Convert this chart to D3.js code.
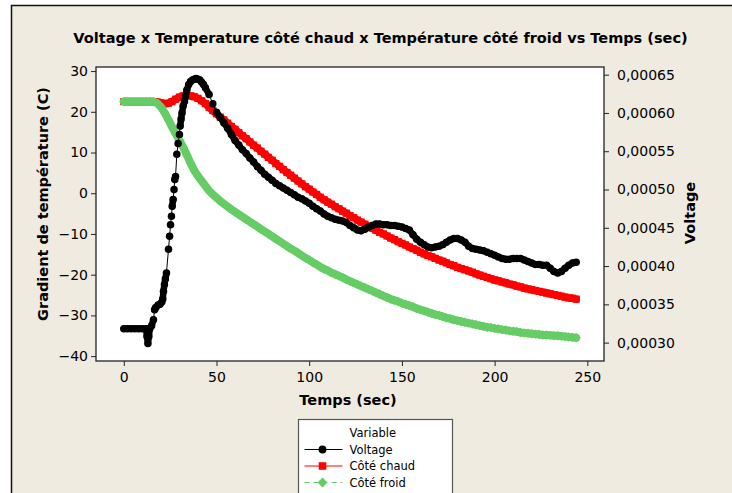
<!DOCTYPE html>
<html>
<head>
<meta charset="utf-8">
<script src="https://cdn.jsdelivr.net/npm/d3@7"></script>
<style>
  html, body { margin: 0; padding: 0; background: #fff; }
  svg { display: block; font-family: "DejaVu Sans", Verdana, sans-serif; }
</style>
</head>
<body>
<svg id="chart" width="732" height="493"></svg>
<script>
const TITLE = "Voltage x Temperature côté chaud x Température côté froid vs Temps (sec)";

// sampling times (sec) of both temperature series
const time = [
    0, 2, 4, 6, 8, 10, 12, 14, 16, 18,
    20, 22, 24, 26, 28, 30, 32, 34, 36, 38,
    40, 42, 44, 46, 48, 50, 52, 54, 56, 58,
    60, 62, 64, 66, 68, 70, 72, 74, 76, 78,
    80, 82, 84, 86, 88, 90, 92, 94, 96, 98,
    100, 102, 104, 106, 108, 110, 112, 114, 116, 118,
    120, 122, 124, 126, 128, 130, 132, 134, 136, 138,
    140, 142, 144, 146, 148, 150, 152, 154, 156, 158,
    160, 162, 164, 166, 168, 170, 172, 174, 176, 178,
    180, 182, 184, 186, 188, 190, 192, 194, 196, 198,
    200, 202, 204, 206, 208, 210, 212, 214, 216, 218,
    220, 222, 224, 226, 228, 230, 232, 234, 236, 238,
    240, 242, 244
];

const coteChaud = [
    22.5, 22.5, 22.5, 22.5, 22.5, 22.5, 22.5, 22.5, 22.5, 22.4,
    22.2, 22.0, 22.1, 22.5, 23.1, 23.6, 23.9, 24.0, 23.9, 23.7,
    23.3, 22.7, 22.0, 21.1, 20.3, 19.5, 18.7, 18.0, 17.2, 16.4,
    15.7, 14.9, 14.1, 13.4, 12.6, 11.8, 11.1, 10.3, 9.6, 8.8,
    8.1, 7.3, 6.6, 5.8, 5.1, 4.4, 3.7, 3.0, 2.3, 1.6,
    1.0, 0.3, -0.3, -1.0, -1.6, -2.2, -2.7, -3.3, -3.8, -4.4,
    -4.9, -5.5, -6.0, -6.6, -7.1, -7.6, -8.1, -8.6, -9.1, -9.6,
    -10.0, -10.5, -11.0, -11.4, -11.9, -12.3, -12.7, -13.2, -13.6, -14.0,
    -14.5, -14.9, -15.3, -15.6, -16.0, -16.4, -16.7, -17.1, -17.5, -17.8,
    -18.2, -18.5, -18.8, -19.1, -19.4, -19.8, -20.1, -20.4, -20.7, -21.0,
    -21.3, -21.5, -21.8, -22.0, -22.3, -22.5, -22.8, -23.0, -23.3, -23.5,
    -23.7, -23.9, -24.1, -24.3, -24.5, -24.7, -24.9, -25.1, -25.3, -25.5,
    -25.7, -25.8, -26.0
];

const coteFroid = [
    22.5, 22.5, 22.5, 22.5, 22.5, 22.5, 22.5, 22.5, 22.5, 22.1,
    21.2, 19.8, 18.1, 16.3, 14.6, 13.0, 11.3, 9.4, 7.4, 5.6,
    4.2, 3.0, 1.8, 0.6, -0.3, -1.1, -1.9, -2.6, -3.3, -4.0,
    -4.6, -5.2, -5.8, -6.4, -7.0, -7.6, -8.2, -8.8, -9.4, -10.0,
    -10.6, -11.2, -11.8, -12.4, -13.0, -13.6, -14.1, -14.7, -15.3, -15.9,
    -16.4, -17.0, -17.5, -18.1, -18.6, -19.0, -19.5, -19.9, -20.3, -20.7,
    -21.2, -21.6, -22.0, -22.4, -22.8, -23.2, -23.6, -24.0, -24.4, -24.8,
    -25.2, -25.6, -26.0, -26.3, -26.6, -27.0, -27.3, -27.6, -27.9, -28.3,
    -28.6, -28.9, -29.2, -29.5, -29.8, -30.0, -30.3, -30.6, -30.8, -31.1,
    -31.3, -31.5, -31.7, -31.9, -32.1, -32.3, -32.5, -32.7, -32.9, -33.0,
    -33.2, -33.3, -33.5, -33.6, -33.8, -33.9, -34.0, -34.2, -34.3, -34.4,
    -34.5, -34.6, -34.7, -34.8, -34.8, -34.9, -35.0, -35.0, -35.1, -35.2,
    -35.3, -35.4, -35.5
];

// voltage was read more often while it was climbing
const voltageTimeRise = [
    0, 2, 4, 6, 8, 10, 12, 12.5, 13, 13.5,
    14, 15, 16, 16.6, 17.2, 18.5, 19.5, 20.5, 21, 21.4,
    21.9, 22.4, 23, 24.1, 24.7, 25.2, 25.7, 26.1, 26.6, 27.1,
    27.5, 27.9, 28.6, 29.3, 30, 30.4, 30.9, 31.4, 32, 32.7,
    33.3, 34, 35, 36, 37, 38, 39, 40, 41, 42,
    43
];
const voltageTime = voltageTimeRise.concat(time.filter(t => t >= 44));

const voltage = [
    0.000318, 0.000318, 0.000318, 0.000318, 0.000318, 0.000318, 0.000318, 0.000308, 0.000299, 0.000308,
    0.000318, 0.000322, 0.000330, 0.000343, 0.000346, 0.000349, 0.000350, 0.000353, 0.000357, 0.000367,
    0.000376, 0.000383, 0.000391, 0.000422, 0.000439, 0.000454, 0.000465, 0.000478, 0.000487, 0.000500,
    0.000513, 0.000517, 0.000546, 0.000560, 0.000572, 0.000583, 0.000592, 0.000600, 0.000609, 0.000615,
    0.000622, 0.000630, 0.000637, 0.000641, 0.000643, 0.000644, 0.000645, 0.000644, 0.000643, 0.000640,
    0.000637,
    0.000633, 0.000624, 0.000612, 0.000601, 0.000594, 0.000587, 0.000580, 0.000572, 0.000564, 0.000558,
    0.000552, 0.000547, 0.000541, 0.000536, 0.000530, 0.000525, 0.000520, 0.000516, 0.000512, 0.000508,
    0.000505, 0.000502, 0.000499, 0.000496, 0.000493, 0.000490, 0.000488, 0.000485, 0.000482, 0.000478,
    0.000475, 0.000472, 0.000468, 0.000465, 0.000463, 0.000461, 0.000460, 0.000459, 0.000457, 0.000453,
    0.000450, 0.000447, 0.000446, 0.000448, 0.000451, 0.000453, 0.000455, 0.000455, 0.000454, 0.000454,
    0.000453, 0.000453, 0.000452, 0.000451, 0.000449, 0.000447, 0.000441, 0.000435, 0.000431, 0.000428,
    0.000425, 0.000424, 0.000425, 0.000426, 0.000428, 0.000431, 0.000434, 0.000436, 0.000436, 0.000434,
    0.000431, 0.000426, 0.000423, 0.000422, 0.000421, 0.000420, 0.000418, 0.000416, 0.000414, 0.000412,
    0.000410, 0.000409, 0.000409, 0.000410, 0.000410, 0.000410, 0.000408, 0.000406, 0.000404, 0.000402,
    0.000402, 0.000401, 0.000401, 0.000397, 0.000393, 0.000391, 0.000393, 0.000397, 0.000401, 0.000404,
    0.000405
];

const timeTicks = [0, 50, 100, 150, 200, 250];
const tempTicks = [-40, -30, -20, -10, 0, 10, 20, 30];
const voltTicks = [0.0003, 0.00035, 0.0004, 0.00045, 0.0005, 0.00055, 0.0006, 0.00065];


const plot = { left: 96, top: 67, right: 604, bottom: 361 };

const x = d3.scaleLinear().domain([-15, 259]).range([plot.left, plot.right]);
const yTemp = d3.scaleLinear().domain([-41.2, 31]).range([plot.bottom, plot.top]);
const yVolt = d3.scaleLinear().domain([0.000276, 0.00066]).range([plot.bottom, plot.top]);

const frLocale = d3.formatLocale({ decimal: ",", thousands: " ", grouping: [3], currency: ["", " €"] });

// band = width of the solid trail that overlapping markers leave where points are dense
const series = [
    { name: "Voltage", xs: voltageTime, ys: voltage, y: yVolt, color: "#000000",
      symbol: d3.symbolCircle, size: 44, rotate: 0, dash: null, band: 6.5 },
    { name: "Côté chaud", xs: time, ys: coteChaud, y: yTemp, color: "#ff0000",
      symbol: d3.symbolSquare, size: 52, rotate: 0, dash: null, band: 7.5 },
    { name: "Côté froid", xs: time, ys: coteFroid, y: yTemp, color: "#66cc66",
      symbol: d3.symbolSquare, size: 44, rotate: 45, dash: "5,4", band: 8 }
];

const svg = d3.select("#chart");

// page background with its frame on the left and top
svg.append("rect")
    .attr("x", 11).attr("y", 5)
    .attr("width", 721).attr("height", 488)
    .attr("fill", "#efebe1");
svg.append("path")
    .attr("d", "M11.5,493V5.5H732")
    .attr("fill", "none")
    .attr("stroke", "#111")
    .attr("stroke-width", 1.5);

svg.append("text")
    .attr("x", 380.5).attr("y", 43)
    .attr("text-anchor", "middle")
    .attr("font-weight", "bold")
    .attr("font-size", 14.5)
    .text(TITLE);

svg.append("rect")
    .attr("x", plot.left).attr("y", plot.top)
    .attr("width", plot.right - plot.left)
    .attr("height", plot.bottom - plot.top)
    .attr("fill", "#fff");

function styleAxis(g) {
    g.select(".domain").remove();
    g.selectAll(".tick line").attr("stroke", "#222");
    g.selectAll(".tick text")
        .attr("fill", "#000")
        .attr("font-family", "DejaVu Sans, Verdana, sans-serif")
        .attr("font-size", 14);
}

svg.append("g")
    .attr("transform", `translate(0,${plot.bottom})`)
    .call(d3.axisBottom(x).tickValues(timeTicks).tickSize(5).tickPadding(6))
    .call(styleAxis);

svg.append("g")
    .attr("transform", `translate(${plot.left},0)`)
    .call(d3.axisLeft(yTemp).tickValues(tempTicks).tickSize(5).tickPadding(3))
    .call(styleAxis);

svg.append("g")
    .attr("transform", `translate(${plot.right},0)`)
    .call(d3.axisRight(yVolt).tickValues(voltTicks).tickSize(5).tickPadding(8)
        .tickFormat(frLocale.format(".5f")))
    .call(styleAxis);

// axis titles
svg.append("text")
    .attr("x", 348).attr("y", 405)
    .attr("text-anchor", "middle")
    .attr("font-weight", "bold")
    .attr("font-size", 14.5)
    .text("Temps (sec)");

svg.append("text")
    .attr("transform", "translate(48,204) rotate(-90)")
    .attr("text-anchor", "middle")
    .attr("font-weight", "bold")
    .attr("font-size", 14.5)
    .text("Gradient de température (C)");

svg.append("text")
    .attr("transform", "translate(695,213) rotate(-90)")
    .attr("text-anchor", "middle")
    .attr("font-weight", "bold")
    .attr("font-size", 14.5)
    .text("Voltage");

// data
const clipId = "plot-clip";
svg.append("clipPath").attr("id", clipId)
    .append("rect")
    .attr("x", plot.left).attr("y", plot.top)
    .attr("width", plot.right - plot.left)
    .attr("height", plot.bottom - plot.top);

const dataG = svg.append("g").attr("clip-path", `url(#${clipId})`);

function drawSeries(s) {
    let pts = s.xs.map((t, i) => [x(t), s.y(s.ys[i])]);
    let g = dataG.append("g").attr("class", "series");

    g.append("path")
        .datum(pts)
        .attr("d", d3.line())
        .attr("fill", "none")
        .attr("stroke", s.color)
        .attr("stroke-width", 1)
        .attr("stroke-dasharray", s.dash);

    // fill the gaps between neighbouring markers that touch each other
    let trail = d3.path();
    pts.forEach((p, i) => {
        if (i === 0) return;
        let q = pts[i - 1];
        if (Math.hypot(p[0] - q[0], p[1] - q[1]) < s.band * 1.3) {
            trail.moveTo(q[0], q[1]);
            trail.lineTo(p[0], p[1]);
        }
    });
    g.append("path")
        .attr("d", trail.toString())
        .attr("fill", "none")
        .attr("stroke", s.color)
        .attr("stroke-width", s.band)
        .attr("stroke-linecap", "round")
        .attr("stroke-linejoin", "round");

    g.selectAll(".marker")
        .data(pts)
        .enter().append("path")
            .attr("class", "marker")
            .attr("transform", d => `translate(${d[0]},${d[1]}) rotate(${s.rotate})`)
            .attr("d", d3.symbol(s.symbol, s.size)())
            .attr("fill", s.color);
}

// red underneath, green over it, voltage on top
drawSeries(series[1]);
drawSeries(series[2]);
drawSeries(series[0]);

svg.append("rect")
    .attr("x", plot.left).attr("y", plot.top)
    .attr("width", plot.right - plot.left)
    .attr("height", plot.bottom - plot.top)
    .attr("fill", "none")
    .attr("stroke", "#222")
    .attr("stroke-width", 1.3);

// legend box, runs off the bottom of the picture
let legend = svg.append("g").attr("transform", "translate(298.5,419.5)");

legend.append("rect")
    .attr("width", 154).attr("height", 90)
    .attr("fill", "#fff")
    .attr("stroke", "#555")
    .attr("stroke-width", 1.2);

legend.append("text")
    .attr("x", 51).attr("y", 17)
    .attr("font-size", 11.5)
    .text("Variable");

const legendRowY = d3.scalePoint().domain(series.map(s => s.name)).range([30, 63]);

series.forEach((s) => {
    let row = legend.append("g").attr("transform", `translate(0,${legendRowY(s.name)})`);
    row.append("line")
        .attr("x1", 6).attr("x2", 44)
        .attr("stroke", s.color)
        .attr("stroke-width", 1.2)
        .attr("stroke-dasharray", s.dash);
    row.append("path")
        .attr("transform", `translate(24,0) rotate(${s.rotate})`)
        .attr("d", d3.symbol(s.symbol, s.size * 1.1)())
        .attr("fill", s.color);
    row.append("text")
        .attr("x", 51).attr("y", 4)
        .attr("font-size", 11.5)
        .text(s.name);
});
</script>
</body>
</html>
